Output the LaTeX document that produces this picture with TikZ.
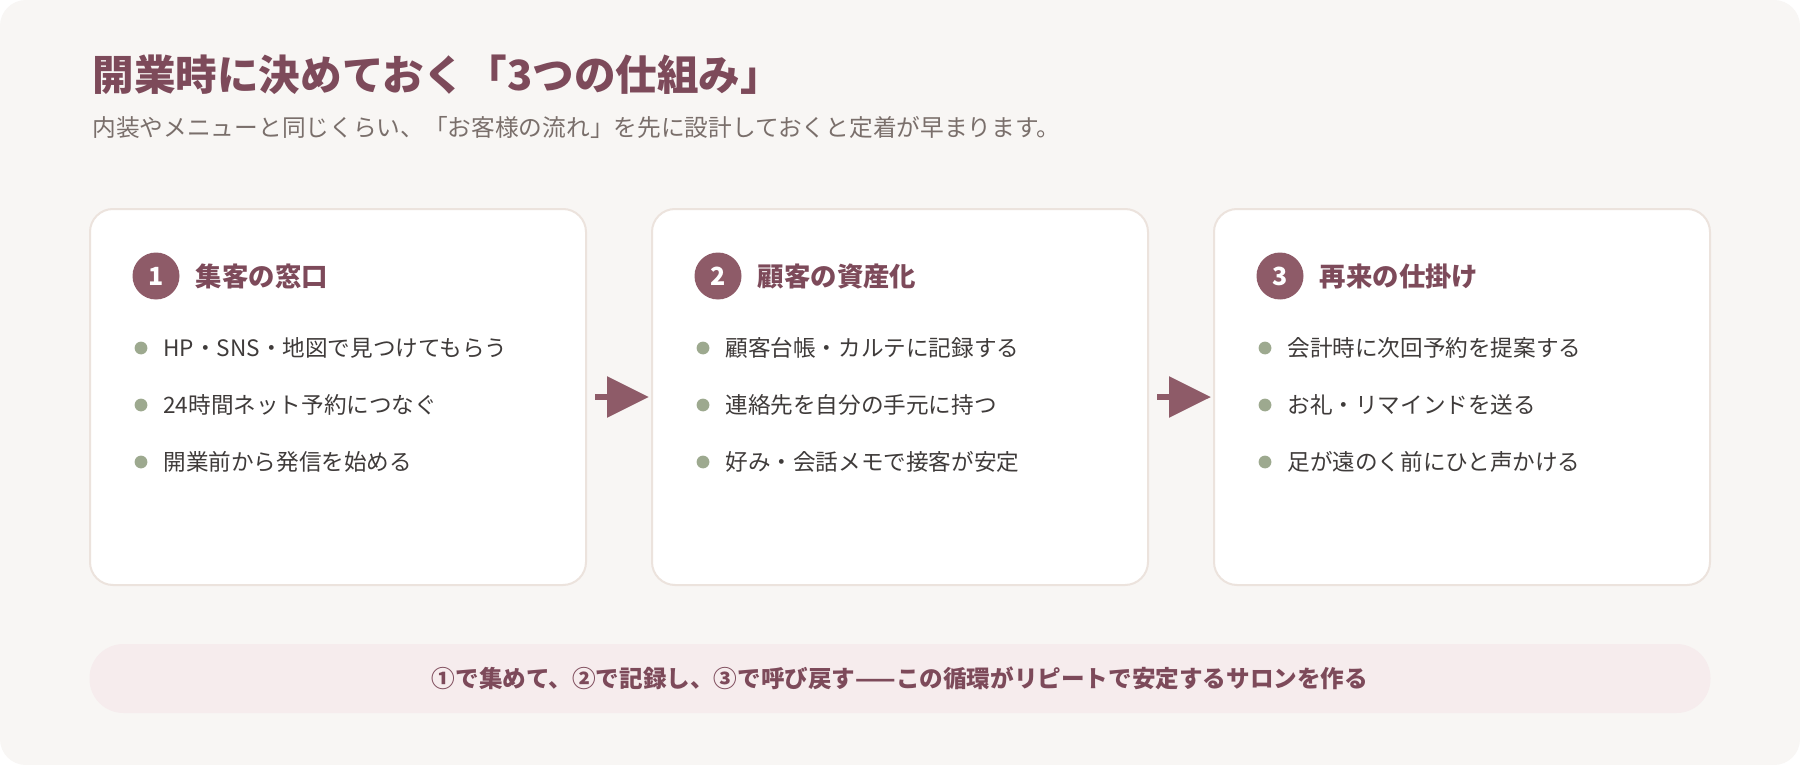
\documentclass[tikz,border=0pt]{standalone}
\usepackage{fontspec}
\setmainfont{Noto Sans CJK JP}
\usetikzlibrary{arrows.meta}
\definecolor{bgc}{HTML}{F8F6F4}
\definecolor{cardline}{HTML}{ECE3DD}
\definecolor{mauve}{HTML}{8E5B68}
\definecolor{titlec}{HTML}{7D4A5A}
\definecolor{subc}{HTML}{7A6F6B}
\definecolor{bodyc}{HTML}{3F3B3A}
\definecolor{sage}{HTML}{9DA98F}
\definecolor{bannerc}{HTML}{F6ECED}
\tikzset{
  cardbox/.style={draw=cardline, fill=white, line width=1pt, rounded corners=11.5pt, minimum width=248pt, minimum height=188pt, inner sep=0pt},
  badge/.style={circle, fill=mauve, text=white, font=\bfseries\fontsize{12.5pt}{14pt}\selectfont, minimum size=23.5pt, inner sep=0pt},
  heading/.style={anchor=west, inner sep=0pt, text=titlec, font=\bfseries\fontsize{13.2pt}{15pt}\selectfont},
  bdot/.style={circle, fill=sage, minimum size=6.4pt, inner sep=0pt},
  btext/.style={anchor=west, inner sep=0pt, text=bodyc, font=\fontsize{11.3pt}{13pt}\selectfont},
  flow/.style={draw=mauve, line width=3pt, -{Triangle[length=21pt,width=20pt]}},
  banner/.style={fill=bannerc, rounded corners=17pt, minimum width=810.5pt, minimum height=34.5pt, inner sep=0pt, text=titlec, font=\bfseries\fontsize{11.8pt}{14pt}\selectfont}
}
\begin{document}
\begin{tikzpicture}[x=0.5pt,y=-0.5pt]
\useasboundingbox (0,0) rectangle (1800,765);
\fill[white] (0,0) rectangle (1800,765);
\fill[bgc, rounded corners=13pt] (0,0) rectangle (1800,765);
\node[anchor=west, inner sep=0pt, text=titlec, font=\bfseries\fontsize{20.8pt}{24pt}\selectfont] (title) at (92,75) {開業時に決めておく「3つの仕組み」};
\node[anchor=west, inner sep=0pt, text=subc, font=\fontsize{11.85pt}{14pt}\selectfont] (sub) at (92,127) {内装やメニューと同じくらい、「お客様の流れ」を先に設計しておくと定着が早まります。};
\foreach \i/\h/\a/\b/\c in {
  1/集客の窓口/HP・SNS・地図で見つけてもらう/24時間ネット予約につなぐ/開業前から発信を始める,
  2/顧客の資産化/顧客台帳・カルテに記録する/連絡先を自分の手元に持つ/好み・会話メモで接客が安定,
  3/再来の仕掛け/会計時に次回予約を提案する/お礼・リマインドを送る/足が遠のく前にひと声かける}{
  \pgfmathsetmacro\cx{338+562*(\i-1)}
  \node[cardbox] (c\i) at (\cx,397) {};
  \node[badge] (n\i) at (\cx-182,276) {\i};
  \node[heading] (h\i) at (\cx-142.5,276.5) {\h};
  \node[bdot] (d\i a) at (\cx-197,348) {};
  \node[bdot] (d\i b) at (\cx-197,405) {};
  \node[bdot] (d\i c) at (\cx-197,462) {};
  \node[btext] (t\i a) at (\cx-175,348) {\a};
  \node[btext] (t\i b) at (\cx-175,405) {\b};
  \node[btext] (t\i c) at (\cx-175,462) {\c};
}
\draw[flow] ([xshift=4pt]c1.east) -- ([xshift=-1pt]c2.west);
\draw[flow] ([xshift=4pt]c2.east) -- ([xshift=-1pt]c3.west);
\node[banner] (band) at (900,678.5) {①で集めて、②で記録し、③で呼び戻す——この循環がリピートで安定するサロンを作る};
\end{tikzpicture}
\end{document}
